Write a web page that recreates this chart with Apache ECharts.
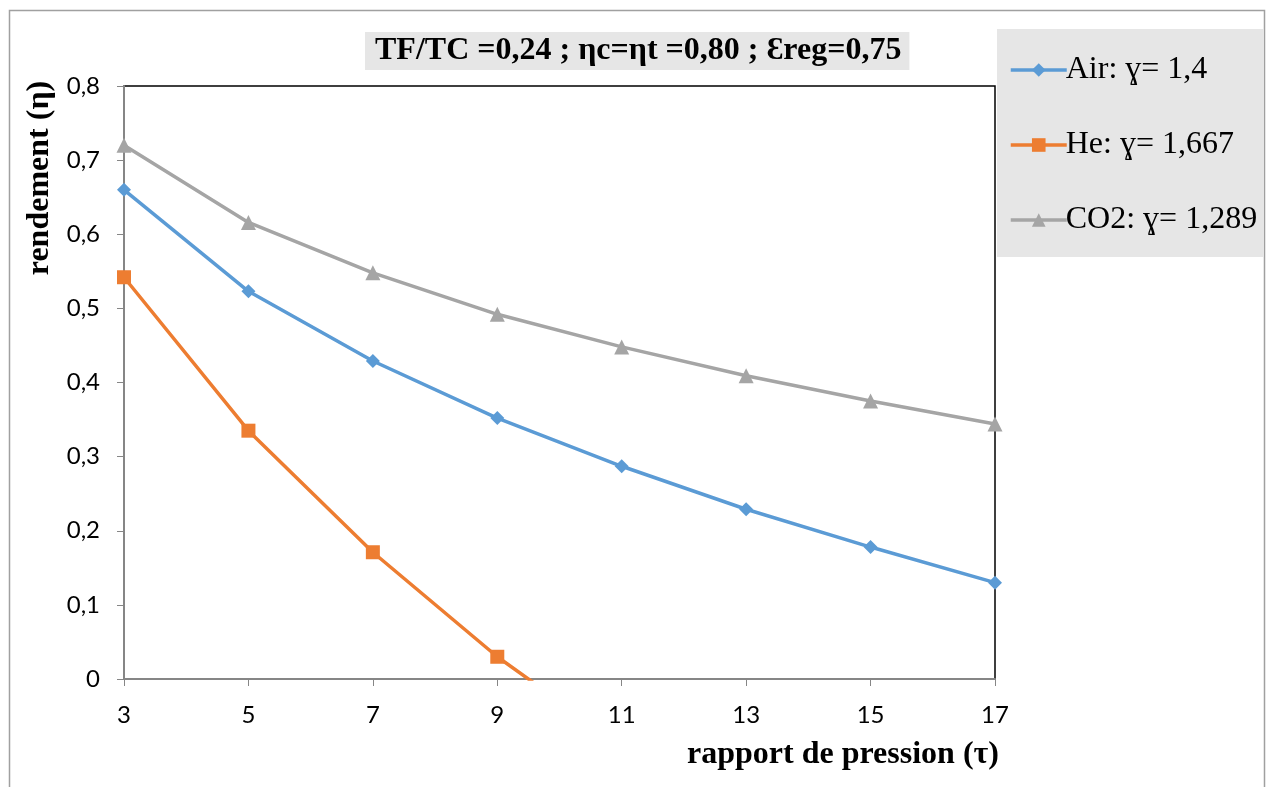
<!DOCTYPE html>
<html><head><meta charset="utf-8">
<script src="https://cdn.jsdelivr.net/npm/echarts@6/dist/echarts.min.js"></script>
<style>html,body{margin:0;padding:0;background:#fff}#c{width:1266px;height:787px}</style>
</head><body><div id="c"></div>
<script>
const categories = ['3','5','7','9','11','13','15','17'];
const airValues = [0.660, 0.523, 0.429, 0.352, 0.287, 0.229, 0.178, 0.130];
const heValues = [0.542, 0.335, 0.171, 0.030, -0.090, null, null, null];
const co2Values = [0.720, 0.616, 0.548, 0.492, 0.448, 0.409, 0.375, 0.344];
const seriesNames = ['Air: ɣ= 1,4', 'He: ɣ= 1,667', 'CO2: ɣ= 1,289'];
const titleText = 'TF/TC =0,24 ; ηc=ηt =0,80 ; Ɛreg=0,75';
const xName = 'rapport de pression (τ)';
const yName = 'rendement (η)';

const chart = echarts.init(document.getElementById('c'));
const serif = '"Liberation Serif","DejaVu Serif",serif';
const sans = 'Lato,"Open Sans",sans-serif';
const mk = (name, data, color, symbol, size) => ({
  name, type: 'line', data, clip: true, connectNulls: false,
  symbol, symbolSize: size, showAllSymbol: true,
  lineStyle: { color, width: 3.5 }, itemStyle: { color },
  emphasis: { disabled: true }
});
chart.setOption({
  animation: false,
  backgroundColor: '#fff',
  title: {
    text: titleText, left: 365, top: 32,
    backgroundColor: '#e6e6e6', padding: [3, 8, 3, 10],
    textStyle: { fontFamily: serif, fontWeight: 'bold', fontSize: 32, lineHeight: 32, color: '#000' }
  },
  legend: {
    orient: 'vertical', left: 1004, top: 49, itemGap: 43,
    itemWidth: 56, itemHeight: 17,
    lineStyle: { width: 3.5 },
    textStyle: { fontFamily: serif, fontSize: 32, lineHeight: 32, color: '#000', padding: [0, 0, 0, -6] },
    data: seriesNames
  },
  grid: { left: 124, right: 271, top: 86, bottom: 108, show: true, borderColor: '#000', borderWidth: 1.5, backgroundColor: 'transparent' },
  xAxis: {
    type: 'category', data: categories, boundaryGap: false,
    axisLine: { lineStyle: { color: '#868686', width: 2 } },
    axisTick: { show: true, inside: false, length: 7, lineStyle: { color: '#868686', width: 1 } },
    axisLabel: { margin: 24, fontFamily: sans, fontSize: 24, color: '#000' },
    splitLine: { show: false }
  },
  yAxis: {
    type: 'value', min: 0, max: 0.8, interval: 0.1,
    axisLine: { show: true, lineStyle: { color: '#868686', width: 2 } },
    axisTick: { show: true, length: 7, lineStyle: { color: '#868686', width: 1 } },
    axisLabel: { margin: 24, fontFamily: sans, fontSize: 24, color: '#000',
      formatter: v => String(Math.round(v * 10) / 10).replace('.', ',') },
    splitLine: { show: false }
  },
  graphic: [
    { type: 'rect', z: -10, shape: { x: 9.5, y: 10.5, width: 1255, height: 790 }, style: { fill: 'none', stroke: '#a0a0a0', lineWidth: 1.5 } },
    { type: 'rect', z: -5, shape: { x: 997, y: 29, width: 267, height: 228 }, style: { fill: '#e6e6e6' } },
    { type: 'text', x: 40, y: 178, rotation: Math.PI / 2, style: { text: yName, font: 'bold 32px ' + serif, fill: '#000', textAlign: 'center', textVerticalAlign: 'middle' } },
    { type: 'text', x: 843, y: 755, style: { text: xName, font: 'bold 32px ' + serif, fill: '#000', textAlign: 'center', textVerticalAlign: 'middle' } }
  ],
  series: [
    mk(seriesNames[0], airValues, '#5b9bd5', 'diamond', 14),
    mk(seriesNames[1], heValues, '#ed7d31', 'rect', 14),
    mk(seriesNames[2], co2Values, '#a5a5a5', 'triangle', 15)
  ]
});
</script></body></html>
